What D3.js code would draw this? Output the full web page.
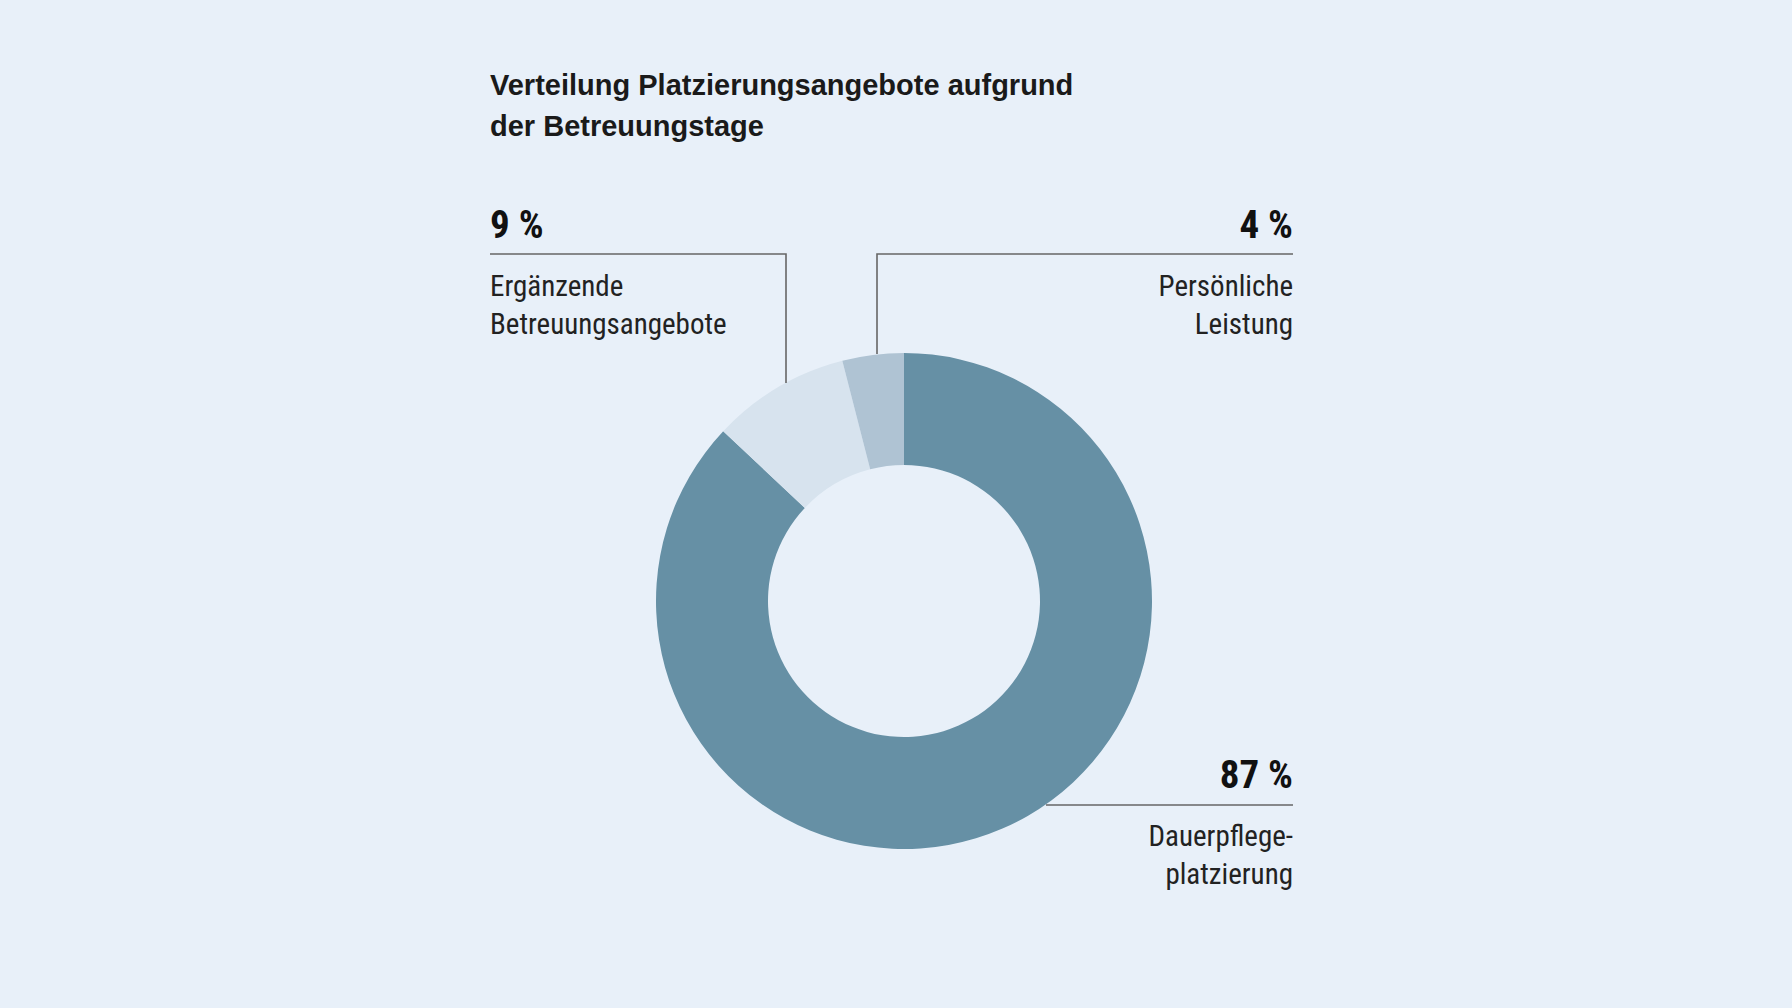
<!DOCTYPE html>
<html><head><meta charset="utf-8">
<script src="https://cdn.jsdelivr.net/npm/d3@7"></script>
<style>
body{margin:0;background:#e8f0f9;}
.cond{font-family:"Liberation Sans Narrow","Roboto Condensed","Liberation Sans",sans-serif;}
</style></head>
<body><svg id="chart" width="1792" height="1008"></svg>
<script>
// chart data
const categories = ["Dauerpflegeplatzierung", "Ergänzende Betreuungsangebote", "Persönliche Leistung"];
const values = [87, 9, 4];
const colors = ["#6690a5", "#d7e3ee", "#afc3d3"];
const pctLabels = ["87 %", "9 %", "4 %"];
const nameLines = [["Dauerpflege-", "platzierung"], ["Ergänzende", "Betreuungsangebote"], ["Persönliche", "Leistung"]];

const svg = d3.select("#chart");
svg.append("rect").attr("width", 1792).attr("height", 1008).attr("fill", "#e8f0f9");

// title
const title = svg.append("text").attr("x", 490).attr("y", 95)
    .style("font-family", "Liberation Sans, Arial, sans-serif")
    .style("font-weight", "bold").style("font-size", "29px").attr("fill", "#1a1a1a");
title.append("tspan").attr("x", 490).attr("dy", 0).text("Verteilung Platzierungsangebote aufgrund");
title.append("tspan").attr("x", 490).attr("dy", 41).text("der Betreuungstage");

const cx = 904, cy = 601;
const pie = d3.pie().sort(null).value(d => d);
const arc = d3.arc().innerRadius(136).outerRadius(248);
svg.append("g").attr("transform", `translate(${cx},${cy})`)
    .selectAll("path").data(pie(values)).enter().append("path")
    .attr("d", arc).attr("fill", (d, i) => colors[i]);

// leader lines
const line = d3.line();
const leaders = [
    [[1046, 805], [1293, 805]],
    [[490, 254], [786, 254], [786, 383]],
    [[1293, 254], [877, 254], [877, 354]]
];
svg.selectAll(".leader").data(leaders).enter().append("path")
    .attr("d", d => line(d)).attr("fill", "none")
    .attr("stroke", "#666").attr("stroke-width", 1.6);

// labels
const labelPos = [
    {x: 1293, y: 788, anchor: "end"},
    {x: 490, y: 238, anchor: "start"},
    {x: 1293, y: 238, anchor: "end"}
];
categories.forEach((c, i) => {
    const p = labelPos[i];
    svg.append("text").attr("class", "cond").attr("x", p.x).attr("y", p.y)
        .attr("text-anchor", p.anchor).style("font-weight", "bold").style("font-size", "39px")
        .attr("fill", "#111").text(pctLabels[i]);
    const t = svg.append("text").attr("class", "cond").attr("x", p.x).attr("y", p.y + 58)
        .attr("text-anchor", p.anchor).style("font-size", "29px").attr("fill", "#222");
    nameLines[i].forEach((l, j) => {
        t.append("tspan").attr("x", p.x).attr("dy", j === 0 ? 0 : 38).text(l);
    });
});
</script></body></html>
